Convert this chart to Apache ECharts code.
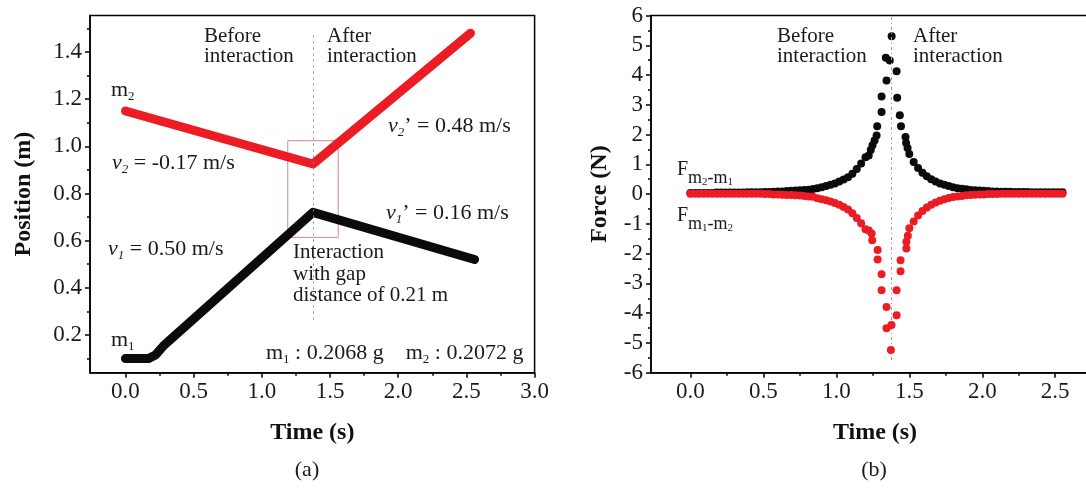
<!DOCTYPE html>
<html>
<head>
<meta charset="utf-8">
<script src="https://cdn.jsdelivr.net/npm/echarts@6/dist/echarts.min.js"></script>
<style>
html, body { margin: 0; padding: 0; background: #fff; }
#chart { width: 1086px; height: 492px; }
</style>
</head>
<body>
<div id="chart"></div>
<script>
// (a) position vs time
var timeM1 = [0, 0.17, 0.22, 0.28, 1.375, 2.56];
var posM1 = [0.10, 0.10, 0.115, 0.155, 0.72, 0.52];
var timeM2 = [0, 1.375, 2.53];
var posM2 = [1.15, 0.925, 1.48];

var timeTicksA = [0, 0.5, 1.0, 1.5, 2.0, 2.5, 3.0];
var timeMinorA = [0.25, 0.75, 1.25, 1.75, 2.25, 2.75];
var posTicks = [0.2, 0.4, 0.6, 0.8, 1.0, 1.2, 1.4];
var posMinor = [0.1, 0.3, 0.5, 0.7, 0.9, 1.1, 1.3, 1.5];

// (b) force vs time
var forceTimeLeft = [0.00, 0.03, 0.06, 0.09, 0.12, 0.15, 0.18, 0.21, 0.24, 0.27, 0.30, 0.33, 0.36, 0.39, 0.42, 0.45,
  0.48, 0.51, 0.54, 0.57, 0.60, 0.63, 0.66, 0.69, 0.72, 0.75, 0.78, 0.81, 0.84,
  0.87, 0.90, 0.93, 0.96, 0.99, 1.02, 1.05, 1.08, 1.11, 1.14, 1.17, 1.20];
var forceM2M1Left = [0.04, 0.04, 0.04, 0.04, 0.04, 0.04, 0.05, 0.05, 0.05, 0.05, 0.05, 0.05, 0.05, 0.06, 0.06, 0.06,
  0.06, 0.07, 0.07, 0.08, 0.09, 0.09, 0.10, 0.11, 0.12, 0.13, 0.14, 0.15, 0.17,
  0.20, 0.23, 0.27, 0.31, 0.36, 0.42, 0.49, 0.57, 0.68, 0.84, 1.03, 1.24];
var forceM1M2Left = [0.01, 0.01, 0.01, 0.01, 0.01, 0.01, 0.01, 0.01, 0.01, 0.01, 0.01, 0.01, 0.01, 0.01, 0.01, 0.01,
  0.01, 0.00, 0.00, -0.01, -0.01, -0.02, -0.03, -0.03, -0.04, -0.05, -0.06, -0.08, -0.09,
  -0.14, -0.17, -0.21, -0.25, -0.30, -0.36, -0.43, -0.52, -0.64, -0.80, -0.98, -1.18];

var peakTimeM2M1 = [1.222, 1.236, 1.248, 1.262, 1.276, 1.280, 1.310, 1.310, 1.344, 1.339, 1.366, 1.379,
  1.413, 1.417, 1.435, 1.443, 1.474, 1.478, 1.488];
var peakM2M1 = [1.30, 1.48, 1.64, 1.80, 1.97, 2.28, 2.76, 3.28, 3.82, 4.58, 4.49, 5.30,
  4.13, 3.24, 2.65, 2.28, 1.92, 1.72, 1.55];
var peakTimeM1M2 = [1.222, 1.242, 1.246, 1.283, 1.283, 1.310, 1.310, 1.344, 1.344, 1.378, 1.374,
  1.413, 1.413, 1.440, 1.440, 1.480, 1.480, 1.490];
var peakM1M2 = [-1.22, -1.32, -1.55, -1.88, -2.20, -2.69, -3.23, -3.79, -4.51, -4.40, -5.24,
  -4.07, -3.23, -2.59, -2.22, -1.83, -1.60, -1.40];

var forceTimeRight = [1.50, 1.53, 1.56, 1.59, 1.62, 1.65, 1.68, 1.71, 1.74, 1.77,
  1.80, 1.83, 1.86, 1.89, 1.92, 1.95, 1.98, 2.01, 2.04, 2.07,
  2.10, 2.13, 2.16, 2.19, 2.22, 2.25, 2.28, 2.31, 2.34, 2.37,
  2.40, 2.43, 2.46, 2.49, 2.52, 2.55];
var forceM2M1Right = [1.35, 1.08, 0.88, 0.72, 0.60, 0.50, 0.42, 0.36, 0.31, 0.27,
  0.23, 0.20, 0.18, 0.16, 0.14, 0.13, 0.12, 0.11, 0.10, 0.09,
  0.09, 0.08, 0.08, 0.08, 0.07, 0.07, 0.07, 0.07, 0.06, 0.06,
  0.06, 0.06, 0.06, 0.06, 0.06, 0.06];
var forceM1M2Right = [-1.15, -0.92, -0.72, -0.57, -0.45, -0.36, -0.28, -0.22, -0.17, -0.13,
  -0.10, -0.08, -0.06, -0.04, -0.03, -0.02, -0.01, -0.01, 0.00, 0.00,
  0.00, 0.01, 0.01, 0.01, 0.01, 0.01, 0.01, 0.01, 0.01, 0.01,
  0.01, 0.01, 0.01, 0.01, 0.01, 0.01];

var timeTicksB = [0, 0.5, 1.0, 1.5, 2.0, 2.5];
var timeMinorB = [0.25, 0.75, 1.25, 1.75, 2.25, 2.75];
var forceTicks = [-6, -5, -4, -3, -2, -1, 0, 1, 2, 3, 4, 5, 6];
var forceMinor = [-5.5, -4.5, -3.5, -2.5, -1.5, -0.5, 0.5, 1.5, 2.5, 3.5, 4.5, 5.5];

var SERIF = "'Liberation Serif', 'Times New Roman', Times, serif";
var INK = '#1a1a1a';
var RED = '#ec1c24';
var BLACK = '#0b0b0b';

function zip(xs, ys) {
  return xs.map(function (x, i) { return [x, ys[i]]; });
}

// main axis with labels, ticks outward
function mainAxis(grid, pos, min, max, ticks, fmt, name, nameGap) {
  return {
    type: 'value', gridIndex: grid, position: pos, offset: 0, min: min, max: max,
    axisLine: { show: true, onZero: false, lineStyle: { color: '#000', width: 1.5 } },
    axisTick: { show: true, customValues: ticks, length: 5, lineStyle: { color: '#000', width: 1.5 } },
    axisLabel: {
      show: true, customValues: ticks, formatter: fmt, margin: 8,
      fontFamily: SERIF, fontSize: 23, color: INK
    },
    splitLine: { show: false },
    name: name, nameLocation: 'middle', nameGap: nameGap,
    nameRotate: (pos === 'left') ? 90 : 0,
    nameTextStyle: { fontFamily: SERIF, fontSize: 24, fontWeight: 'bold', color: '#111' }
  };
}

// extra axis only for minor ticks
function minorAxis(grid, pos, min, max, ticks) {
  return {
    type: 'value', gridIndex: grid, position: pos, offset: 0, min: min, max: max,
    axisLine: { show: false, onZero: false },
    axisTick: { show: true, customValues: ticks, length: 3, lineStyle: { color: '#000', width: 1.5 } },
    axisLabel: { show: false },
    splitLine: { show: false }
  };
}

var fmt1 = function (v) { return v.toFixed(1); };
var fmt0 = function (v) { return String(Math.round(v)); };

var rich = {
  n: { fontFamily: SERIF, fontSize: 22, lineHeight: 25, verticalAlign: 'top', fill: INK },
  i: { fontFamily: SERIF, fontSize: 22, fontStyle: 'italic', lineHeight: 25, verticalAlign: 'top', fill: INK },
  s: { fontFamily: SERIF, fontSize: 13, lineHeight: 13, padding: [11, 0, 0, 0], verticalAlign: 'top', fill: INK },
  si: { fontFamily: SERIF, fontSize: 13, fontStyle: 'italic', lineHeight: 13, padding: [11, 0, 0, 0], verticalAlign: 'top', fill: INK },
  F: { fontFamily: SERIF, fontSize: 20, lineHeight: 22, verticalAlign: 'top', fill: INK },
  fm: { fontFamily: SERIF, fontSize: 18, lineHeight: 18, padding: [9, 0, 0, 0], verticalAlign: 'top', fill: INK },
  fd: { fontFamily: SERIF, fontSize: 11, lineHeight: 11, padding: [17, 0, 0, 0], verticalAlign: 'top', fill: INK }
};

function richText(x, y, text) {
  return {
    type: 'text', x: x, y: y, silent: true, z: 50,
    style: { text: text, rich: rich, textAlign: 'left', textVerticalAlign: 'middle' }
  };
}

function plainText(x, y, text, align, size, lineHeight) {
  return {
    type: 'text', x: x, y: y, silent: true, z: 50,
    style: {
      text: text, fontFamily: SERIF, fontSize: size || 21, lineHeight: lineHeight || 20,
      fill: INK, textAlign: align || 'left', textVerticalAlign: 'top'
    }
  };
}

var chart = echarts.init(document.getElementById('chart'), null, { renderer: 'canvas' });

var option = {
  animation: false,
  backgroundColor: '#fff',
  grid: [
    { left: 90, top: 15.5, width: 444.6, height: 357.2, show: true, borderColor: '#000', borderWidth: 1.5,
      backgroundColor: 'transparent', containLabel: false, outerBoundsMode: 'none' },
    { left: 651, top: 15.5, width: 448, height: 357.2, show: true, borderColor: '#000', borderWidth: 1.5,
      backgroundColor: 'transparent', containLabel: false, outerBoundsMode: 'none' }
  ],
  xAxis: [
    mainAxis(0, 'bottom', -0.26, 3.0, timeTicksA, fmt1, 'Time (s)', 48),
    minorAxis(0, 'bottom', -0.26, 3.0, timeMinorA),
    mainAxis(1, 'bottom', -0.27, 2.8, timeTicksB, fmt1, 'Time (s)', 48),
    minorAxis(1, 'bottom', -0.27, 2.8, timeMinorB)
  ],
  yAxis: [
    mainAxis(0, 'left', 0.04, 1.555, posTicks, fmt1, 'Position (m)', 54),
    minorAxis(0, 'left', 0.04, 1.555, posMinor),
    mainAxis(1, 'left', -6, 6, forceTicks, fmt0, 'Force (N)', 39),
    minorAxis(1, 'left', -6, 6, forceMinor)
  ],
  series: [
    {
      name: 'm2', type: 'line', xAxisIndex: 0, yAxisIndex: 0,
      data: zip(timeM2, posM2), showSymbol: false, symbol: 'none', z: 4,
      lineStyle: { color: RED, width: 9, cap: 'round', join: 'round' },
      markArea: {
        silent: true,
        itemStyle: { color: 'rgba(0,0,0,0)', borderColor: '#d7868a', borderWidth: 1 },
        data: [[{ coord: [1.19, 1.024] }, { coord: [1.56, 0.614] }]]
      }
    },
    {
      name: 'm1', type: 'line', xAxisIndex: 0, yAxisIndex: 0,
      data: zip(timeM1, posM1), showSymbol: false, symbol: 'none', z: 4,
      lineStyle: { color: BLACK, width: 9, cap: 'round', join: 'round' },
      markLine: {
        silent: true, symbol: ['none', 'none'], label: { show: false },
        lineStyle: { type: [2, 4], color: '#8a8a8a', width: 1 },
        data: [[{ coord: [1.375, 1.47] }, { coord: [1.375, 0.26] }]]
      }
    },
    {
      name: 'Fm2-m1', type: 'scatter', xAxisIndex: 2, yAxisIndex: 2,
      data: zip(forceTimeLeft, forceM2M1Left)
        .concat(zip(peakTimeM2M1, peakM2M1))
        .concat(zip(forceTimeRight, forceM2M1Right)),
      symbol: 'circle', symbolSize: 8, z: 4,
      itemStyle: { color: BLACK, opacity: 1 },
      markLine: {
        silent: true, symbol: ['none', 'none'], label: { show: false },
        lineStyle: { type: [3, 3, 1, 3], color: '#9a9a9a', width: 1 },
        data: [[{ coord: [1.378, 5.95] }, { coord: [1.378, -5.6] }]]
      }
    },
    {
      name: 'Fm1-m2', type: 'scatter', xAxisIndex: 2, yAxisIndex: 2,
      data: zip(forceTimeLeft, forceM1M2Left)
        .concat(zip(peakTimeM1M2, peakM1M2))
        .concat(zip(forceTimeRight, forceM1M2Right)),
      symbol: 'circle', symbolSize: 8, z: 5,
      itemStyle: { color: RED, opacity: 1 }
    }
  ],
  graphic: [
    // (a)
    plainText(204, 26, 'Before\ninteraction'),
    plainText(327, 26, 'After\ninteraction'),
    richText(111, 92, '{n|m}{s|2}'),
    richText(112, 165, '{i|v}{si|2}{n| = -0.17 m/s}'),
    richText(388, 128, '{i|v}{si|2}{n|’ = 0.48 m/s}'),
    richText(386, 215, '{i|v}{si|1}{n|’ = 0.16 m/s}'),
    richText(108, 251, '{i|v}{si|1}{n| = 0.50 m/s}'),
    plainText(293, 242, 'Interaction\nwith gap\ndistance of 0.21 m', 'left', 21, 21.5),
    richText(111, 342, '{n|m}{s|1}'),
    richText(266, 355, '{n|m}{s|1}{n| : 0.2068 g    m}{s|2}{n| : 0.2072 g}'),
    plainText(307, 458, '(a)', 'center', 22, 24),
    // (b)
    plainText(777, 26, 'Before\ninteraction'),
    plainText(913, 26, 'After\ninteraction'),
    richText(677, 171, '{F|F}{fm|m}{fd|2}{fm|-m}{fd|1}'),
    richText(677, 217, '{F|F}{fm|m}{fd|1}{fm|-m}{fd|2}'),
    plainText(874, 458, '(b)', 'center', 22, 24)
  ]
};

chart.setOption(option);
</script>
</body>
</html>
